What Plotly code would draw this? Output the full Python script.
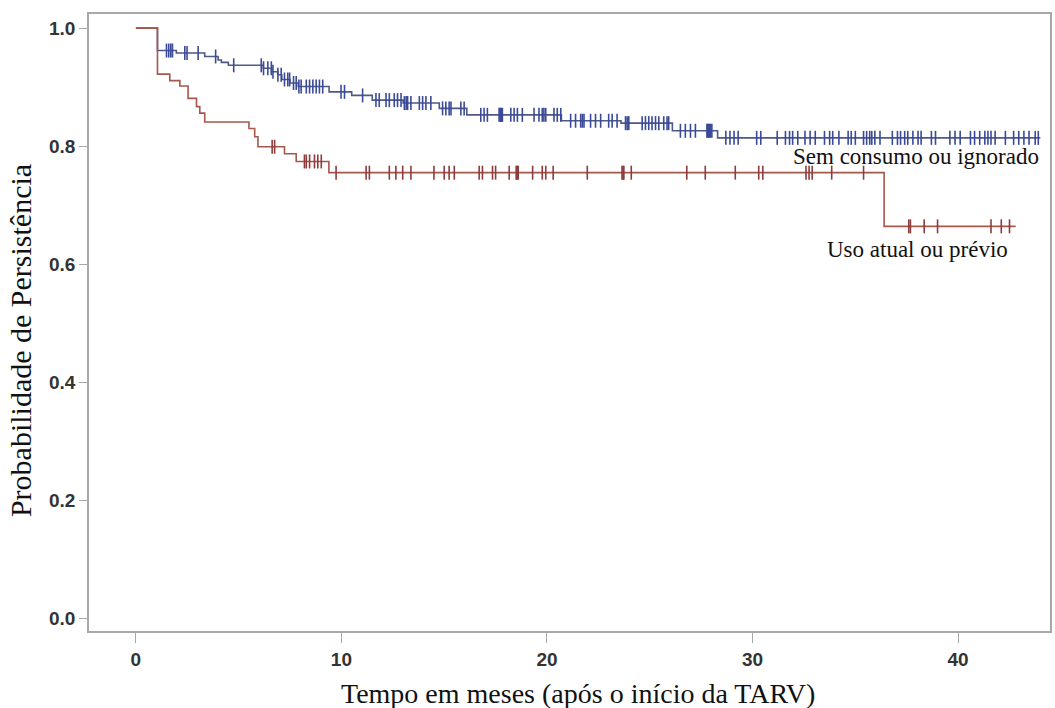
import numpy as np
import plotly.graph_objects as go

# ---- Data (months, survival probability) ----
# "Sem consumo ou ignorado"
blue_t = [0, 1.05, 1.97, 3.35, 4.0, 4.16, 4.5, 6.2, 6.6, 6.9, 7.1, 7.5, 7.9, 9.4, 10.5,
          11.5, 13.0, 14.76, 16.1, 20.7, 23.6, 26.1, 28.3]
blue_s = [1.0, 0.962, 0.958, 0.952, 0.946, 0.942, 0.937, 0.932, 0.926, 0.921, 0.913, 0.907,
          0.901, 0.892, 0.886, 0.878, 0.873, 0.864, 0.853, 0.843, 0.839, 0.826, 0.814]
blue_end = 44.0
blue_cens = [1.49, 1.6, 1.7, 1.78, 2.38, 2.49, 3.03, 3.88, 4.76,
             6.1, 6.21, 6.42, 6.59, 6.67, 6.91, 7.07, 7.23, 7.39, 7.48, 7.67, 7.8, 7.93, 8.04,
             8.29, 8.45, 8.61, 8.77, 8.93, 9.09, 9.98, 10.15, 11.03,
             11.68, 11.84, 12.17, 12.33, 12.57, 12.73, 12.9, 13.06, 13.15, 13.22, 13.38,
             13.79, 13.95, 14.11, 14.35, 14.92, 15.08, 15.24, 15.33, 15.81, 15.97,
             16.78, 16.94, 17.1, 17.67, 17.72, 17.75, 17.8, 17.83,
             18.24, 18.4, 18.56, 18.8, 19.37, 19.61, 19.77, 19.85, 19.94,
             20.34, 20.5, 20.67, 21.15, 21.39, 21.64, 21.72, 21.8, 22.12, 22.36, 22.61,
             23.0, 23.17, 23.41, 23.82, 23.9, 23.98,
             24.63, 24.79, 24.95, 25.11, 25.28, 25.44, 25.68, 25.84, 25.92,
             26.49, 26.73, 26.98, 27.22, 27.78, 27.82, 27.86, 27.9, 27.95, 28.02,
             28.7, 28.9, 29.1, 29.3, 30.2, 30.4, 31.2,
             31.6, 31.8, 31.95, 32.2, 32.55, 32.8, 33.05,
             33.5, 33.75, 33.9, 34.2, 34.65, 34.8, 35.0,
             35.4, 35.55, 35.7, 35.8, 35.95, 36.2,
             36.8, 37.05, 37.2, 37.4, 37.55, 37.8, 38.05, 38.2,
             38.7, 38.9, 39.6, 39.85, 40.1,
             40.6, 40.8, 41.05, 41.3, 41.45, 41.6, 41.8,
             42.3, 42.7, 42.95, 43.2, 43.45, 43.75, 43.9]

# "Uso atual ou prévio"
red_t = [0, 1.05, 1.65, 2.14, 2.54, 2.95, 3.11, 3.35, 5.5, 5.78, 5.94, 7.23, 7.8, 9.39, 36.4]
red_s = [1.0, 0.922, 0.911, 0.902, 0.881, 0.867, 0.856, 0.841, 0.830, 0.816, 0.799, 0.787,
         0.774, 0.755, 0.664]
red_end = 42.8
red_cens = [6.63, 6.75, 8.2, 8.29, 8.45, 8.69, 8.85, 9.02, 9.74, 11.2, 11.36,
            12.33, 12.65, 12.98, 13.38, 14.5, 15.0, 15.24, 15.49, 16.7, 16.86, 17.35, 17.5,
            18.16, 18.5, 18.55, 18.6, 19.3, 19.77, 19.94, 20.3, 21.96, 23.65, 23.7, 23.74, 24.1,
            26.8, 27.7, 29.16, 30.3, 30.5, 32.6, 32.75, 32.9, 33.85, 35.4,
            37.6, 37.68, 38.35, 39.0, 41.6, 42.1, 42.5]

x_ticks = [0, 10, 20, 30, 40]
y_ticks = [0.0, 0.2, 0.4, 0.6, 0.8, 1.0]
y_ticktext = ["0.0", "0.2", "0.4", "0.6", "0.8", "1.0"]

label_blue = "Sem consumo ou ignorado"
label_red = "Uso atual ou prévio"
x_title = "Tempo em meses (após o início da TARV)"
y_title = "Probabilidade de Persistência"

BLUE_LINE = "#4d5a86"
BLUE_MARK = "#3b4a98"
RED_LINE = "#a5584a"
RED_MARK = "#8e3b3b"


def step_value(t_steps, s_steps, times):
    idx = np.searchsorted(np.array(t_steps), np.array(times), side="right") - 1
    return np.array(s_steps)[idx]


fig = go.Figure()

for t, s, end, cens, lc, mc in [
    (blue_t, blue_s, blue_end, blue_cens, BLUE_LINE, BLUE_MARK),
    (red_t, red_s, red_end, red_cens, RED_LINE, RED_MARK),
]:
    fig.add_trace(go.Scatter(
        x=list(t) + [end], y=list(s) + [s[-1]], mode="lines",
        line=dict(color=lc, width=1.6, shape="hv"), showlegend=False, hoverinfo="skip"))
    fig.add_trace(go.Scatter(
        x=cens, y=step_value(t, s, cens), mode="markers",
        marker=dict(symbol="line-ns-open", size=10, color=mc, line=dict(color=mc, width=1.6)),
        showlegend=False))

serif = "Liberation Serif, Times New Roman, serif"
sans = "Liberation Sans, Arial, sans-serif"

fig.add_annotation(x=44.03, y=0.782, xref="x", yref="y", text=label_blue, showarrow=False,
                   xanchor="right", yanchor="middle", font=dict(family=serif, size=23, color="#111"))
fig.add_annotation(x=42.52, y=0.624, xref="x", yref="y", text=label_red, showarrow=False,
                   xanchor="right", yanchor="middle", font=dict(family=serif, size=23, color="#111"))
fig.add_annotation(x=0.509, y=-0.1005, xref="paper", yref="paper", text=x_title, showarrow=False,
                   xanchor="center", yanchor="middle", font=dict(family=serif, size=28, color="#111"))
fig.add_annotation(x=-0.0717, y=0.47, xref="paper", yref="paper", text=y_title, showarrow=False,
                   textangle=-90, xanchor="center", yanchor="middle",
                   font=dict(family=serif, size=30, color="#111"))

axis_common = dict(showgrid=False, zeroline=False, showline=True, linecolor="#a8a8a8",
                   linewidth=1.5, mirror=True, ticks="outside", tickcolor="#a8a8a8",
                   tickwidth=1.2,
                   tickfont=dict(family=sans, size=19, color="#333", weight="bold"))

fig.update_xaxes(range=[-2.28, 44.47], tickvals=x_ticks, ticklen=10, **axis_common)
fig.update_yaxes(range=[-0.022, 1.024], tickvals=y_ticks, ticktext=y_ticktext, ticklen=8,
                 **axis_common)

fig.update_layout(
    width=1055, height=708,
    margin=dict(l=89, r=3, t=14, b=77),
    paper_bgcolor="white", plot_bgcolor="white",
    showlegend=False,
)

fig.write_html("out.html")
